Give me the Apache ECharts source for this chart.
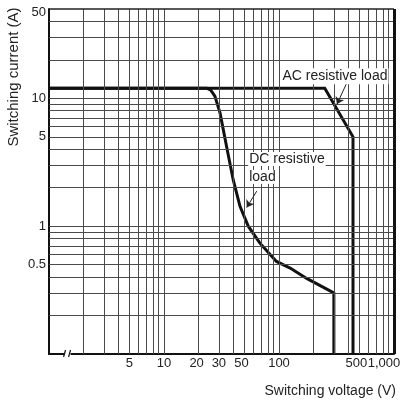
<!DOCTYPE html>
<html>
<head>
<meta charset="utf-8">
<script src="https://cdn.jsdelivr.net/npm/echarts@6/dist/echarts.min.js"></script>
<style>
html, body { margin: 0; padding: 0; background: #fff; }
#main { width: 401px; height: 403px; }
</style>
</head>
<body>
<div id="main"></div>
<script>
// data (log-log)
var acVoltage = [1, 250, 440, 440];
var acCurrent = [12, 12, 5, 0.1];
var dcVoltage = [1, 23.5, 25.5, 27.7, 30.7, 35, 40, 45.8, 54, 68, 95, 125, 174, 300, 300];
var dcCurrent = [12, 12, 11.6, 10.4, 7.7, 4.2, 2.3, 1.43, 1.0, 0.74, 0.53, 0.47, 0.39, 0.3, 0.1];

var xGridValues = [2, 3, 4, 5, 6, 7, 8, 9, 10, 20, 30, 40, 50, 60, 70, 80, 90, 100, 200, 300, 400, 500, 600, 700, 800, 900];
var yGridValues = [0.2, 0.3, 0.4, 0.5, 0.6, 0.7, 0.8, 0.9, 1, 2, 3, 4, 5, 6, 7, 8, 9, 10, 20, 30, 40];
var xTickValues = [1, 5, 10, 20, 30, 50, 100, 500, 1000];
var xTickText = ['0', '5', '10', '20', '30', '50', '100', '500', '1,000'];
var yTickValues = [0.1, 0.5, 1, 5, 10, 50];
var yTickText = ['0.1', '0.5', '1', '5', '10', '50'];

var FONT = 'Liberation Sans, Arial, sans-serif';

function zip(a, b) {
    return a.map(function (v, i) { return [v, b[i]]; });
}

// small nudges so the crowded labels sit as in the original
var xLabelShift = { 20: -2, 50: -3, 500: -3, 1000: -10 };

// grid lines + tick labels as markLines (log axis does not give 2,3,4.. lines)
var gridItems = [];
xGridValues.forEach(function (v) { gridItems.push({ xAxis: v }); });
yGridValues.forEach(function (v) { gridItems.push({ yAxis: v }); });
xTickValues.forEach(function (v, i) {
    var item = { xAxis: v, label: { show: true, formatter: xTickText[i] } };
    if (xLabelShift[v]) item.label.offset = [xLabelShift[v], 0];
    if (v === 1) item.lineStyle = { opacity: 0 };
    if (v === 1000) item.lineStyle = { color: '#111', width: 3 };
    gridItems.push(item);
});
yTickValues.forEach(function (v, i) {
    var item = { yAxis: v, label: { show: true, formatter: yTickText[i] } };
    if (v === 0.1) item.lineStyle = { opacity: 0 };
    if (v === 50) {
        item.lineStyle = { color: '#222', width: 1.5 };
        item.label.offset = [0, 3];
    }
    gridItems.push(item);
});

var myChart = echarts.init(document.getElementById('main'));
var option = {
    animation: false,
    backgroundColor: '#fff',
    grid: { left: 49, right: 7, top: 9, bottom: 49, show: false },
    xAxis: {
        type: 'log', logBase: 10, min: 1, max: 1000,
        axisLine: { show: true, lineStyle: { color: '#111', width: 2 } },
        axisTick: { show: false },
        axisLabel: { show: false },
        splitLine: { show: false }
    },
    yAxis: {
        type: 'log', logBase: 10, min: 0.1, max: 50,
        axisLine: { show: true, lineStyle: { color: '#111', width: 2 } },
        axisTick: { show: false },
        axisLabel: { show: false },
        splitLine: { show: false }
    },
    series: [
        {
            name: 'grid',
            type: 'line',
            data: [[1, 0.1]],
            symbol: 'none',
            lineStyle: { width: 0 },
            silent: true,
            z: 1,
            markLine: {
                silent: true,
                animation: false,
                symbol: ['none', 'none'],
                lineStyle: { color: '#4a4a4a', width: 1, type: 'solid' },
                label: {
                    show: false, position: 'start', distance: 3,
                    color: '#222', fontSize: 13, fontFamily: FONT
                },
                emphasis: { disabled: true },
                data: gridItems
            }
        },
        {
            name: 'AC resistive load',
            type: 'line',
            data: zip(acVoltage, acCurrent),
            symbol: 'none',
            z: 3,
            lineStyle: { color: '#111', width: 3, join: 'miter' }
        },
        {
            name: 'DC resistive load',
            type: 'line',
            data: zip(dcVoltage, dcCurrent),
            symbol: 'none',
            z: 3,
            lineStyle: { color: '#111', width: 3, join: 'miter' }
        },
        {
            name: 'arrows',
            type: 'line',
            data: [],
            z: 4,
            markLine: {
                silent: true,
                animation: false,
                symbol: ['none', 'arrow'],
                symbolSize: 7,
                lineStyle: { color: '#222', width: 1, type: 'solid' },
                itemStyle: { color: '#222' },
                label: { show: false },
                data: [
                    [{ coord: [390, 13.3] }, { coord: [319, 8.98] }],
                    [{ coord: [64, 1.88] }, { coord: [52.4, 1.40] }]
                ]
            }
        }
    ]
};
myChart.setOption(option);

// annotations and the axis break, placed from data coordinates
var acPos = myChart.convertToPixel('grid', [105, 14.9]);
var dcPos = myChart.convertToPixel('grid', [54, 3.95]);
var brk = myChart.convertToPixel('grid', [1.45, 0.1]);

myChart.setOption({
    graphic: [
        {
            type: 'text', x: acPos[0], y: acPos[1], z: 10,
            style: {
                text: 'AC resistive load', fill: '#222', font: '14px ' + FONT,
                align: 'left', verticalAlign: 'middle',
                backgroundColor: '#fff', padding: [1, 1]
            }
        },
        {
            type: 'text', x: dcPos[0], y: dcPos[1], z: 10,
            style: {
                text: '{a|DC resistive}\n{a|load}', fill: '#222', font: '14px ' + FONT,
                align: 'left', verticalAlign: 'top',
                rich: { a: { backgroundColor: '#fff', fontSize: 14, fontFamily: FONT, lineHeight: 18, padding: [0, 1] } }
            }
        },
        {
            type: 'rect', z: 10,
            shape: { x: brk[0] - 3, y: brk[1] - 2, width: 6, height: 4 },
            style: { fill: '#fff' }
        },
        {
            type: 'line', z: 11,
            shape: { x1: brk[0] - 4, y1: brk[1] + 3, x2: brk[0] - 2, y2: brk[1] - 4 },
            style: { stroke: '#111', lineWidth: 1.2 }
        },
        {
            type: 'line', z: 11,
            shape: { x1: brk[0] + 1, y1: brk[1] + 3, x2: brk[0] + 3, y2: brk[1] - 4 },
            style: { stroke: '#111', lineWidth: 1.2 }
        },
        {
            type: 'text', x: 14, y: 77, rotation: Math.PI / 2, z: 10,
            style: {
                text: 'Switching current (A)', fill: '#222', font: '15px ' + FONT,
                align: 'center', verticalAlign: 'middle'
            }
        },
        {
            type: 'text', x: 396, y: 391, z: 10,
            style: {
                text: 'Switching voltage (V)', fill: '#222', font: '14px ' + FONT,
                align: 'right', verticalAlign: 'middle'
            }
        }
    ]
});
</script>
</body>
</html>
